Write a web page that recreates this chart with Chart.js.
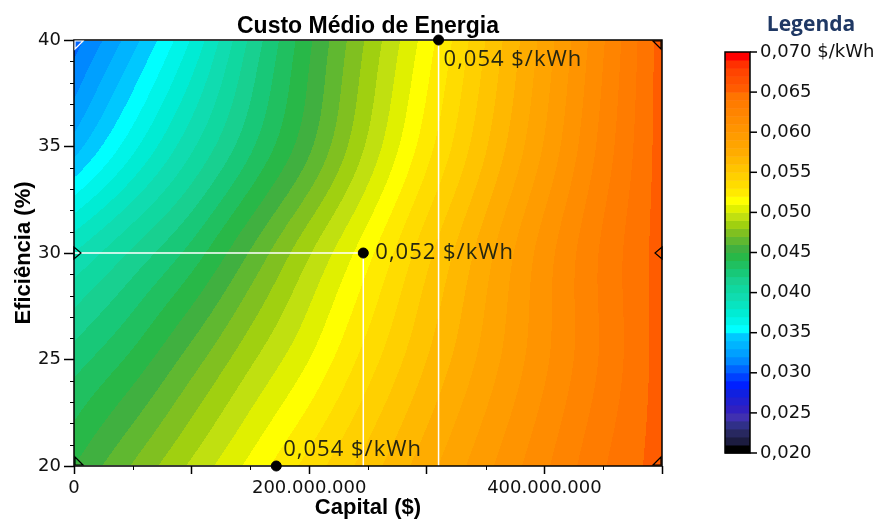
<!DOCTYPE html>
<html>
<head>
<meta charset="utf-8">
<script src="https://cdn.jsdelivr.net/npm/chart.js@4.4.1/dist/chart.umd.min.js"></script>
<style>
  body { margin: 0; background: #fff; }
  #wrap { width: 877px; height: 521px; }
</style>
</head>
<body>
<div id="wrap"><canvas id="canvas-chart"></canvas></div>
<script>
// values: cost ($/kWh) on a capital x efficiency grid
const capitalGrid = [0, 50e6, 100e6, 150e6, 200e6, 250e6, 300e6, 350e6, 400e6, 450e6, 500e6];
const efficiencyGrid = [20, 25, 30, 35, 40];
const cost20 = [0.0450, 0.0471, 0.0492, 0.0513, 0.0534, 0.0555, 0.0576, 0.0597, 0.0618, 0.0639, 0.0655];
const cost25 = [0.0425, 0.0443, 0.0465, 0.0488, 0.0510, 0.0535, 0.0560, 0.0584, 0.0608, 0.0632, 0.0655];
const cost30 = [0.0390, 0.0412, 0.0434, 0.0461, 0.0489, 0.0517, 0.0547, 0.0576, 0.0605, 0.0632, 0.0655];
const cost35 = [0.0335, 0.0367, 0.0398, 0.0428, 0.0458, 0.0492, 0.0526, 0.0559, 0.0591, 0.0624, 0.0655];
const cost40 = [0.0305, 0.0336, 0.0371, 0.0412, 0.0448, 0.0482, 0.0515, 0.0550, 0.0584, 0.0619, 0.0655];

// marked points
const markCapital = [310e6, 246e6, 172e6];
const markEfficiency = [40, 30, 20];
const markLabels = ["0,054 $/kWh", "0,052 $/kWh", "0,054 $/kWh"];

// colour scale
const legendTicks = [0.020, 0.025, 0.030, 0.035, 0.040, 0.045, 0.050, 0.055, 0.060, 0.065, 0.070];
const bandStep = 0.001;
const bandColors = [
  "#000000", "#1c1c40", "#282860", "#303088", "#4030b0",
  "#3020c0", "#2020d0", "#1020e0", "#0020ff", "#0040ff",
  "#0064ff", "#0088ff", "#00a0ff", "#00b4ff", "#00c8ff",
  "#00ffff", "#00f4e8", "#00ecd4", "#08e4c0", "#10dcb0",
  "#10d8a0", "#18d090", "#18c878", "#20c060", "#28b848",
  "#40b040", "#60b830", "#80c020", "#a0d010", "#c0e010",
  "#e0f000", "#ffff00", "#ffea00", "#ffdc00", "#ffd000",
  "#ffc400", "#ffb800", "#ffac00", "#ffa400", "#ff9c00",
  "#ff9400", "#ff8c00", "#ff8400", "#ff7c00", "#ff7400",
  "#ff5c00", "#ff5000", "#ff4400", "#ff3000", "#ff0000",
];
const bandRgb = bandColors.map((h) => [
  parseInt(h.slice(1, 3), 16), parseInt(h.slice(3, 5), 16), parseInt(h.slice(5, 7), 16),
]);
const costRows = [cost20, cost25, cost30, cost35, cost40];

function locate(grid, v) {
  let i = 0;
  while (i < grid.length - 2 && v > grid[i + 1]) i++;
  const t = Math.min(1, Math.max(0, (v - grid[i]) / (grid[i + 1] - grid[i])));
  return [i, t];
}

// smooth (catmull-rom) reading between grid nodes
function smooth(vals, i, t) {
  const n = vals.length;
  const p1 = vals[i], p2 = vals[i + 1];
  const p0 = i > 0 ? vals[i - 1] : 2 * p1 - p2;
  const p3 = i + 2 < n ? vals[i + 2] : 2 * p2 - p1;
  return 0.5 * (2 * p1 + (-p0 + p2) * t + (2 * p0 - 5 * p1 + 4 * p2 - p3) * t * t +
    (-p0 + 3 * p1 - 3 * p2 + p3) * t * t * t);
}

function costAt(cap, eff) {
  const [i, tx] = locate(capitalGrid, cap);
  const [j, ty] = locate(efficiencyGrid, eff);
  const col = costRows.map((row) => smooth(row, i, tx));
  return smooth(col, j, ty);
}

function bandOf(v) {
  const k = Math.floor((v - legendTicks[0]) / bandStep + 1e-9);
  return Math.min(bandColors.length - 1, Math.max(0, k));
}

function fmtMoney(v) {
  return String(Math.round(v)).replace(/\B(?=(\d{3})+(?!\d))/g, ".");
}

function tri(ctx, pts, color) {
  ctx.beginPath();
  ctx.moveTo(pts[0][0], pts[0][1]);
  ctx.lineTo(pts[1][0], pts[1][1]);
  ctx.lineTo(pts[2][0], pts[2][1]);
  ctx.closePath();
  ctx.strokeStyle = color;
  ctx.stroke();
}

// filled contour field, drawn pixel by pixel through the scales
const fieldPlugin = {
  id: "field",
  beforeDatasetsDraw(chart) {
    const { ctx, chartArea: a, scales } = chart;
    const x0 = Math.round(a.left), y0 = Math.round(a.top);
    const w = Math.round(a.right) - x0, h = Math.round(a.bottom) - y0;
    const img = ctx.createImageData(w, h);
    for (let j = 0; j < h; j++) {
      const eff = scales.y.getValueForPixel(y0 + j + 0.5);
      for (let i = 0; i < w; i++) {
        const cap = scales.x.getValueForPixel(x0 + i + 0.5);
        const c = bandRgb[bandOf(costAt(cap, eff))];
        const p = (j * w + i) * 4;
        img.data[p] = c[0];
        img.data[p + 1] = c[1];
        img.data[p + 2] = c[2];
        img.data[p + 3] = 255;
      }
    }
    ctx.putImageData(img, x0, y0);

    // minor ticks
    ctx.save();
    ctx.strokeStyle = "#000";
    ctx.lineWidth = 1;
    ctx.beginPath();
    for (let e = 21; e < 40; e++) {
      if (e % 5 === 0) continue;
      const py = Math.round(scales.y.getPixelForValue(e)) + 0.5;
      ctx.moveTo(a.left - 4, py);
      ctx.lineTo(a.left, py);
    }
    for (let c = 50e6; c < 500e6; c += 100e6) {
      const px = Math.round(scales.x.getPixelForValue(c)) + 0.5;
      ctx.moveTo(px, a.bottom);
      ctx.lineTo(px, a.bottom + 4);
    }
    ctx.stroke();
    ctx.restore();
  },
  beforeDatasetDraw(chart, args) {
    // frame and handles go over the guide lines but under the marked points
    if (args.index !== 0) return;
    const { ctx, chartArea: a, scales } = chart;
    ctx.save();
    ctx.strokeStyle = "#000";
    ctx.lineWidth = 1.5;
    ctx.strokeRect(a.left, a.top, a.right - a.left, a.bottom - a.top);

    ctx.lineWidth = 1.2;
    const s = 9;
    tri(ctx, [[a.left + 1, a.top + 1], [a.left + s, a.top + 1], [a.left + 1, a.top + s]], "#fff");
    tri(ctx, [[a.left + 1, a.bottom - 1], [a.left + s, a.bottom - 1], [a.left + 1, a.bottom - s]], "#000");
    tri(ctx, [[a.right - 1, a.top + 1], [a.right - s, a.top + 1], [a.right - 1, a.top + s]], "#000");
    tri(ctx, [[a.right - 1, a.bottom - 1], [a.right - s, a.bottom - 1], [a.right - 1, a.bottom - s]], "#000");
    const yh = scales.y.getPixelForValue(markEfficiency[1]);
    const xl = scales.x.getPixelForValue(capitalGrid[0]);
    const xr = scales.x.getPixelForValue(capitalGrid[capitalGrid.length - 1]);
    tri(ctx, [[xl, yh - 6], [xl, yh + 6], [xl + 7, yh]], "#000");
    tri(ctx, [[xr, yh - 6], [xr, yh + 6], [xr - 7, yh]], "#000");
    ctx.restore();
  },
  afterDraw(chart) {
    const { ctx, chartArea: a, scales } = chart;
    ctx.save();

    // title
    ctx.fillStyle = "#000";
    ctx.font = "bold 23px 'Liberation Sans'";
    ctx.textAlign = "center";
    ctx.textBaseline = "alphabetic";
    ctx.fillText("Custo Médio de Energia", (a.left + a.right) / 2, 33);

    // labels next to the marked points
    const offsets = [[5, 20], [12, 0], [7, -16]];
    ctx.font = "22px 'Open Sans'";
    ctx.letterSpacing = "1px";
    ctx.fillStyle = "#262610";
    ctx.textAlign = "left";
    ctx.textBaseline = "middle";
    markLabels.forEach((t, i) => {
      const px = scales.x.getPixelForValue(markCapital[i]);
      const py = scales.y.getPixelForValue(markEfficiency[i]);
      ctx.fillText(t, px + offsets[i][0], py + offsets[i][1]);
    });
    ctx.letterSpacing = "0px";

    // colour legend
    const bx = 725, bw = 25, bTop = 52, bBot = 453;
    const vMin = legendTicks[0], vMax = legendTicks[legendTicks.length - 1];
    const yOf = (v) => bBot - ((v - vMin) / (vMax - vMin)) * (bBot - bTop);
    bandColors.forEach((col, k) => {
      const yA = yOf(vMin + k * bandStep), yB = yOf(vMin + (k + 1) * bandStep);
      ctx.fillStyle = col;
      ctx.fillRect(bx, yB, bw, yA - yB + 0.5);
    });
    ctx.strokeStyle = "#000";
    ctx.lineWidth = 1.5;
    ctx.strokeRect(bx, bTop, bw, bBot - bTop);
    ctx.font = "18px 'DejaVu Sans'";
    ctx.fillStyle = "#111";
    ctx.textBaseline = "middle";
    legendTicks.forEach((v, i) => {
      const py = yOf(v);
      ctx.beginPath();
      ctx.moveTo(bx + bw, py);
      ctx.lineTo(bx + bw + 7, py);
      ctx.stroke();
      let t = v.toFixed(3).replace(".", ",");
      if (i === legendTicks.length - 1) t += " $/kWh";
      ctx.fillText(t, bx + bw + 10, py);
    });
    ctx.font = "bold 21px 'Open Sans'";
    ctx.fillStyle = "#1f3864";
    ctx.textAlign = "center";
    ctx.textBaseline = "alphabetic";
    ctx.fillText("Legenda", 811, 31);
    ctx.restore();
  },
};

// white guide lines from the axes to each marked point
const guideSets = markCapital.map((cap, i) => ({
  type: "line",
  data: [
    { x: 0, y: markEfficiency[i] },
    { x: cap, y: markEfficiency[i] },
    { x: cap, y: efficiencyGrid[0] },
  ],
  borderColor: "#ffffff",
  borderWidth: 1.5,
  pointRadius: 0,
  fill: false,
  order: 3,
}));

Chart.defaults.font.family = "'DejaVu Sans'";

const canvas = document.getElementById("canvas-chart");
const costChart = new Chart(canvas, {
  type: "scatter",
  data: {
    datasets: [
      {
        data: markCapital.map((c, i) => ({ x: c, y: markEfficiency[i] })),
        backgroundColor: "#000",
        borderColor: "#000",
        pointRadius: 5,
        clip: false,
        order: 0,
      },
      ...guideSets,
    ],
  },
  options: {
    responsive: true,
    maintainAspectRatio: false,
    animation: false,
    layout: { padding: { left: 0, right: 215, top: 40, bottom: 0 } },
    plugins: { legend: { display: false }, tooltip: { enabled: false } },
    scales: {
      x: {
        type: "linear",
        min: 0,
        max: 500e6,
        afterFit: (s) => { s.height = 55; },
        ticks: {
          stepSize: 100e6,
          autoSkip: false,
          maxRotation: 0,
          padding: 4,
          color: "#111",
          font: { size: 18 },
          callback: (v) => (v % 200e6 === 0 ? fmtMoney(v) : ""),
        },
        grid: { drawOnChartArea: false, tickLength: 8, tickColor: "#000", tickWidth: 1.5 },
        border: { display: false },
        title: {
          display: true,
          text: "Capital ($)",
          color: "#000",
          font: { family: "'Liberation Sans'", size: 22, weight: "bold" },
          padding: { top: 0, bottom: 0 },
        },
      },
      y: {
        type: "linear",
        min: 20,
        max: 40,
        afterFit: (s) => { s.width = 74; },
        ticks: { stepSize: 5, padding: 3, color: "#111", font: { size: 18 } },
        grid: { drawOnChartArea: false, tickLength: 10, tickColor: "#000", tickWidth: 1.5 },
        border: { display: false },
        title: {
          display: true,
          text: "Eficiência (%)",
          color: "#000",
          font: { family: "'Liberation Sans'", size: 22, weight: "bold" },
          padding: { top: 11, bottom: 0 },
        },
      },
    },
  },
  plugins: [fieldPlugin],
});
</script>
</body>
</html>
